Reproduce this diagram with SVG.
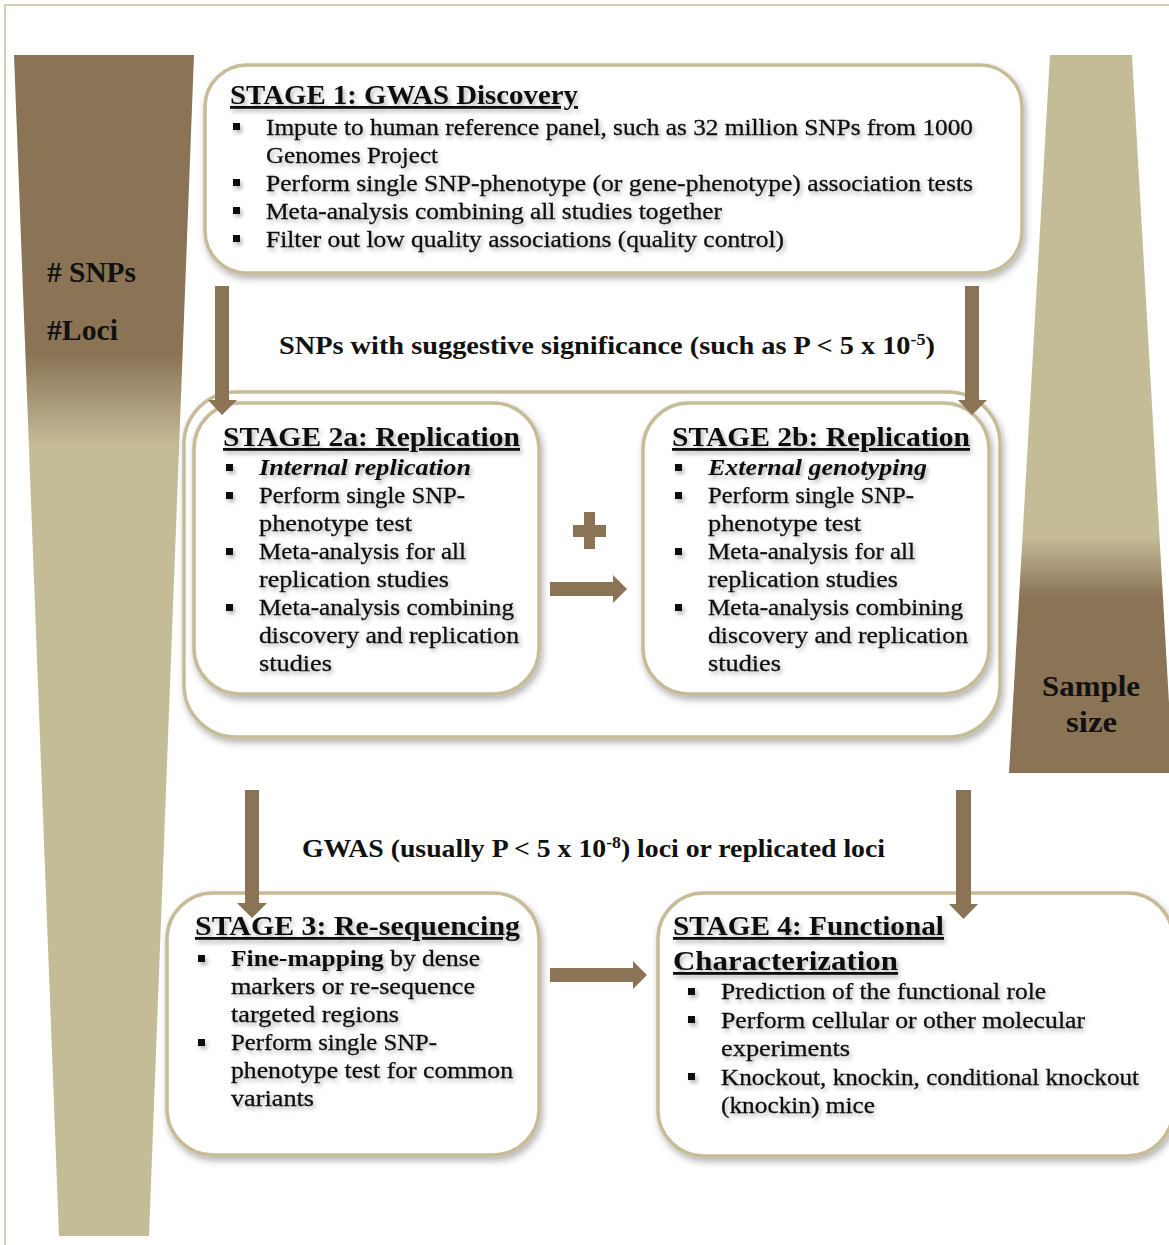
<svg xmlns="http://www.w3.org/2000/svg" width="1169" height="1245" viewBox="0 0 1169 1245">
  <defs>
    <style>
      .frame { fill: none; stroke: #c9c09e; stroke-width: 1.5; }
      .box { fill: #ffffff; stroke: #c6bc97; stroke-width: 3.5; }
      .arrow { fill: #8a7455; }
      .t { font-family: "Liberation Serif", "DejaVu Serif", serif; font-size: 23.5px; fill: #111; stroke: #111; stroke-width: 0.3; }
      .h { font-family: "Liberation Serif", "DejaVu Serif", serif; font-size: 28px; font-weight: bold; fill: #111; text-decoration: underline; }
      .lbl { font-family: "Liberation Serif", "DejaVu Serif", serif; font-size: 25px; font-weight: bold; fill: #111; }
      .side { font-family: "Liberation Serif", "DejaVu Serif", serif; font-size: 29px; font-weight: bold; fill: #111; }
      .bi { font-weight: bold; font-style: italic; stroke-width: 0; }
      .b { font-weight: bold; stroke-width: 0; }
      .sq { fill: #111; }
    </style>
    <linearGradient id="gLeft" gradientUnits="userSpaceOnUse" x1="0" y1="355" x2="0" y2="445">
      <stop offset="0" stop-color="#8a7455"/>
      <stop offset="1" stop-color="#c4bb97"/>
    </linearGradient>
    <linearGradient id="gRight" gradientUnits="userSpaceOnUse" x1="0" y1="537" x2="0" y2="597">
      <stop offset="0" stop-color="#c4bb97"/>
      <stop offset="1" stop-color="#8a7455"/>
    </linearGradient>
    <filter id="boxShadow" x="-10%" y="-10%" width="120%" height="125%">
      <feDropShadow dx="2" dy="4" stdDeviation="3.5" flood-color="#000" flood-opacity="0.3"/>
    </filter>
    <filter id="textShadow" x="-5%" y="-20%" width="110%" height="140%">
      <feDropShadow dx="2" dy="3" stdDeviation="2" flood-color="#000" flood-opacity="0.3"/>
    </filter>
  </defs>

  <rect class="frame" x="5" y="5" width="1200" height="1300"/>

  <!-- side wedges: number of SNPs / loci narrows, sample size widens -->
  <g id="snps-wedge">
    <polygon points="14,55 194,55 149,1236 59,1236" fill="url(#gLeft)"/>
    <text class="side" x="47" y="282" textLength="89" lengthAdjust="spacingAndGlyphs"># SNPs</text>
    <text class="side" x="47" y="340" textLength="71" lengthAdjust="spacingAndGlyphs">#Loci</text>
  </g>
  <g id="sample-wedge">
    <polygon points="1050,55 1132,55 1173,773 1009,773" fill="url(#gRight)"/>
    <text class="side" x="1042" y="696" textLength="98" lengthAdjust="spacingAndGlyphs">Sample</text>
    <text class="side" x="1066" y="732" textLength="51" lengthAdjust="spacingAndGlyphs">size</text>
  </g>

  <!-- Stage 1 -->
  <g id="stage1">
    <rect class="box" x="205" y="65" width="817" height="208" rx="42" filter="url(#boxShadow)"/>
    <g filter="url(#textShadow)">
      <text class="h" x="230" y="104" textLength="348" lengthAdjust="spacingAndGlyphs">STAGE 1: GWAS Discovery</text>
      <rect class="sq" x="233" y="123" width="7" height="7"/>
      <rect class="sq" x="233" y="179" width="7" height="7"/>
      <rect class="sq" x="233" y="207" width="7" height="7"/>
      <rect class="sq" x="233" y="235" width="7" height="7"/>
      <text class="t" x="266" y="135" textLength="707" lengthAdjust="spacingAndGlyphs">Impute to human reference panel, such as 32 million SNPs from 1000</text>
      <text class="t" x="266" y="163" textLength="172" lengthAdjust="spacingAndGlyphs">Genomes Project</text>
      <text class="t" x="266" y="191" textLength="707" lengthAdjust="spacingAndGlyphs">Perform single SNP-phenotype (or gene-phenotype) association tests</text>
      <text class="t" x="266" y="219" textLength="456" lengthAdjust="spacingAndGlyphs">Meta-analysis combining all studies together</text>
      <text class="t" x="266" y="247" textLength="518" lengthAdjust="spacingAndGlyphs">Filter out low quality associations (quality control)</text>
    </g>
  </g>

  <!-- Stage 2 container -->
  <g id="stage2">
    <rect class="box" x="184" y="392" width="816" height="345" rx="52" filter="url(#boxShadow)"/>
  </g>

  <!-- Stage 2a -->
  <g id="stage2a">
    <rect class="box" x="194" y="403" width="345" height="291" rx="46" filter="url(#boxShadow)"/>
    <g filter="url(#textShadow)">
      <text class="h" x="223" y="446" textLength="297" lengthAdjust="spacingAndGlyphs">STAGE 2a: Replication</text>
      <rect class="sq" x="226" y="464" width="7" height="7"/>
      <rect class="sq" x="226" y="492" width="7" height="7"/>
      <rect class="sq" x="226" y="548" width="7" height="7"/>
      <rect class="sq" x="226" y="604" width="7" height="7"/>
      <text class="t bi" x="259" y="475" textLength="212" lengthAdjust="spacingAndGlyphs">Internal replication</text>
      <text class="t" x="259" y="503" textLength="206" lengthAdjust="spacingAndGlyphs">Perform single SNP-</text>
      <text class="t" x="259" y="531" textLength="153" lengthAdjust="spacingAndGlyphs">phenotype test</text>
      <text class="t" x="259" y="559" textLength="207" lengthAdjust="spacingAndGlyphs">Meta-analysis for all</text>
      <text class="t" x="259" y="587" textLength="190" lengthAdjust="spacingAndGlyphs">replication studies</text>
      <text class="t" x="259" y="615" textLength="255" lengthAdjust="spacingAndGlyphs">Meta-analysis combining</text>
      <text class="t" x="259" y="643" textLength="260" lengthAdjust="spacingAndGlyphs">discovery and replication</text>
      <text class="t" x="259" y="671" textLength="73" lengthAdjust="spacingAndGlyphs">studies</text>
    </g>
  </g>

  <!-- Stage 2b -->
  <g id="stage2b">
    <rect class="box" x="643" y="403" width="346" height="291" rx="46" filter="url(#boxShadow)"/>
    <g filter="url(#textShadow)">
      <text class="h" x="672" y="446" textLength="298" lengthAdjust="spacingAndGlyphs">STAGE 2b: Replication</text>
      <rect class="sq" x="675" y="464" width="7" height="7"/>
      <rect class="sq" x="675" y="492" width="7" height="7"/>
      <rect class="sq" x="675" y="548" width="7" height="7"/>
      <rect class="sq" x="675" y="604" width="7" height="7"/>
      <text class="t bi" x="708" y="475" textLength="219" lengthAdjust="spacingAndGlyphs">External genotyping</text>
      <text class="t" x="708" y="503" textLength="206" lengthAdjust="spacingAndGlyphs">Perform single SNP-</text>
      <text class="t" x="708" y="531" textLength="153" lengthAdjust="spacingAndGlyphs">phenotype test</text>
      <text class="t" x="708" y="559" textLength="207" lengthAdjust="spacingAndGlyphs">Meta-analysis for all</text>
      <text class="t" x="708" y="587" textLength="190" lengthAdjust="spacingAndGlyphs">replication studies</text>
      <text class="t" x="708" y="615" textLength="255" lengthAdjust="spacingAndGlyphs">Meta-analysis combining</text>
      <text class="t" x="708" y="643" textLength="260" lengthAdjust="spacingAndGlyphs">discovery and replication</text>
      <text class="t" x="708" y="671" textLength="73" lengthAdjust="spacingAndGlyphs">studies</text>
    </g>
  </g>

  <!-- Stage 3 -->
  <g id="stage3">
    <rect class="box" x="167" y="893" width="372" height="262" rx="46" filter="url(#boxShadow)"/>
    <g filter="url(#textShadow)">
      <text class="h" x="195" y="935" textLength="325" lengthAdjust="spacingAndGlyphs">STAGE 3: Re-sequencing</text>
      <rect class="sq" x="198" y="955" width="7" height="7"/>
      <rect class="sq" x="198" y="1039" width="7" height="7"/>
      <text class="t" x="231" y="966" textLength="249" lengthAdjust="spacingAndGlyphs"><tspan class="b">Fine-mapping</tspan> by dense</text>
      <text class="t" x="231" y="994" textLength="244" lengthAdjust="spacingAndGlyphs">markers or re-sequence</text>
      <text class="t" x="231" y="1022" textLength="168" lengthAdjust="spacingAndGlyphs">targeted regions</text>
      <text class="t" x="231" y="1050" textLength="206" lengthAdjust="spacingAndGlyphs">Perform single SNP-</text>
      <text class="t" x="231" y="1078" textLength="282" lengthAdjust="spacingAndGlyphs">phenotype test for common</text>
      <text class="t" x="231" y="1106" textLength="83" lengthAdjust="spacingAndGlyphs">variants</text>
    </g>
  </g>

  <!-- Stage 4 -->
  <g id="stage4">
    <rect class="box" x="658" y="893" width="515" height="263" rx="46" filter="url(#boxShadow)"/>
    <g filter="url(#textShadow)">
      <text class="h" x="673" y="935" textLength="271" lengthAdjust="spacingAndGlyphs">STAGE 4: Functional</text>
      <text class="h" x="673" y="970" textLength="225" lengthAdjust="spacingAndGlyphs">Characterization</text>
      <rect class="sq" x="688" y="988" width="7" height="7"/>
      <rect class="sq" x="688" y="1016" width="7" height="7"/>
      <rect class="sq" x="688" y="1073" width="7" height="7"/>
      <text class="t" x="721" y="999" textLength="325" lengthAdjust="spacingAndGlyphs">Prediction of the functional role</text>
      <text class="t" x="721" y="1028" textLength="364" lengthAdjust="spacingAndGlyphs">Perform cellular or other molecular</text>
      <text class="t" x="721" y="1056" textLength="129" lengthAdjust="spacingAndGlyphs">experiments</text>
      <text class="t" x="721" y="1085" textLength="418" lengthAdjust="spacingAndGlyphs">Knockout, knockin, conditional knockout</text>
      <text class="t" x="721" y="1113" textLength="154" lengthAdjust="spacingAndGlyphs">(knockin) mice</text>
    </g>
  </g>

  <!-- connectors -->
  <g id="connectors">
    <!-- Stage 1 to Stage 2a / 2b -->
    <polygon class="arrow" points="215,286 229,286 229,400 237,400 222,415 208,400 215,400"/>
    <polygon class="arrow" points="965,286 979,286 979,400 987,400 972,415 958,400 965,400"/>
    <!-- Stage 2a plus Stage 2b -->
    <path class="arrow" d="M584,512 H595 V525 H606 V537 H595 V549 H584 V537 H573 V525 H584 Z"/>
    <polygon class="arrow" points="550,582 613,582 613,575 627,589 613,603 613,596 550,596"/>
    <!-- Stage 2 to Stage 3 / 4 -->
    <polygon class="arrow" points="245,790 259,790 259,903 267,903 252,918 237,903 245,903"/>
    <polygon class="arrow" points="956,790 971,790 971,904 978,904 963.5,919 949,904 956,904"/>
    <!-- Stage 3 to Stage 4 -->
    <polygon class="arrow" points="550,968 633,968 633,961 647,975 633,989 633,982 550,982"/>
    <text class="lbl" x="279" y="354" textLength="656" lengthAdjust="spacingAndGlyphs">SNPs with suggestive significance (such as P &lt; 5 x 10<tspan font-size="16" dy="-9">-5</tspan><tspan dy="9">)</tspan></text>
    <text class="lbl" x="302" y="857" textLength="583" lengthAdjust="spacingAndGlyphs">GWAS (usually P &lt; 5 x 10<tspan font-size="16" dy="-9">-8</tspan><tspan dy="9">) loci or replicated loci</tspan></text>
  </g>
</svg>
